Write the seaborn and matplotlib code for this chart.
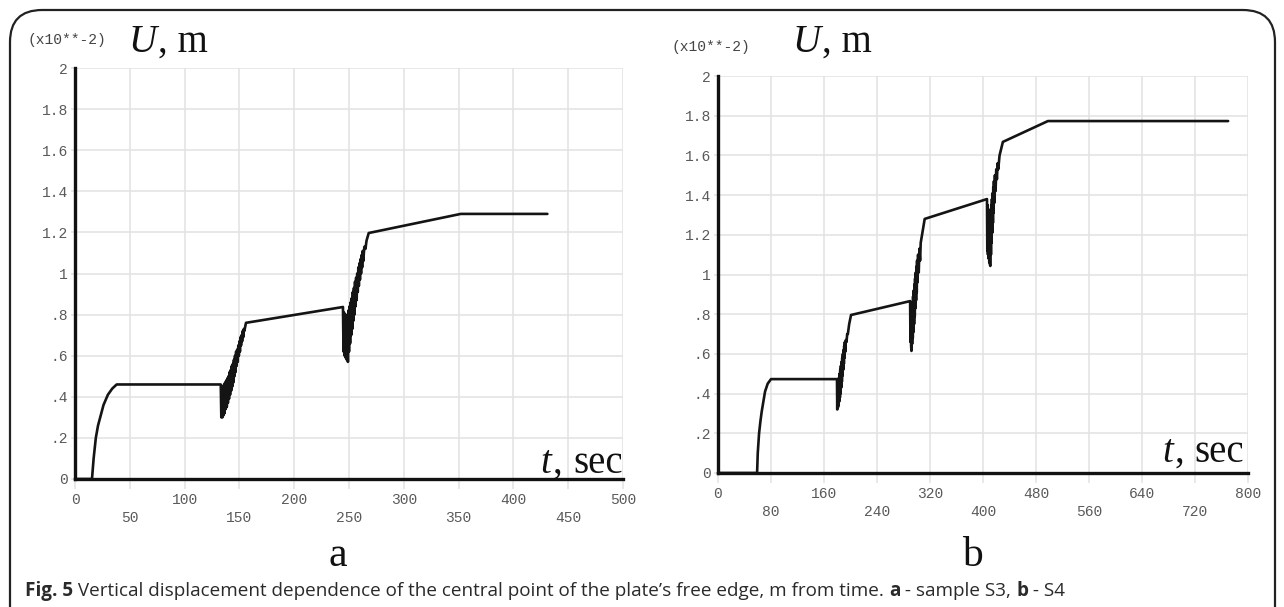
import numpy as np
import pandas as pd
import seaborn as sns
import matplotlib.pyplot as plt
from matplotlib.patches import FancyBboxPatch

# panel a - sample S3 (t in sec, U in x10**-2 m)
t_a = [0, 15.5, 17, 19, 21, 23.5, 26, 30, 34, 38, 133,
       133.5, 134, 134.5, 135, 135.5, 136, 136.5, 137, 137.5, 138, 138.5, 139, 139.5,
       140, 140.5, 141, 141.5, 142, 142.5, 143, 143.5, 144, 144.5, 145, 145.5, 146,
       146.5, 147, 147.5, 148, 148.5, 149, 149.5, 150, 150.5, 151, 151.5, 152, 152.5,
       153, 153.5, 154, 154.5, 156,
       244.5, 245, 245.5, 246, 246.5, 247, 247.5, 248, 248.5, 249, 249.5, 250, 250.5,
       251, 251.5, 252, 252.5, 253, 253.5, 254, 254.5, 255, 255.5, 256, 256.5, 257,
       257.5, 258, 258.5, 259, 259.5, 260, 260.5, 261, 261.5, 262, 262.5, 263, 264,
       265, 266, 268,
       352, 431]
u_a = [0, 0, 0.1, 0.2, 0.26, 0.31, 0.36, 0.41, 0.44, 0.46, 0.46,
       0.30, 0.45, 0.30, 0.45, 0.31, 0.46, 0.32, 0.47, 0.34, 0.48, 0.35, 0.49, 0.37,
       0.50, 0.39, 0.52, 0.41, 0.53, 0.43, 0.55, 0.45, 0.56, 0.47, 0.58, 0.50, 0.60,
       0.52, 0.62, 0.55, 0.63, 0.57, 0.65, 0.60, 0.67, 0.62, 0.69, 0.65, 0.70, 0.67,
       0.72, 0.69, 0.73, 0.72, 0.76,
       0.837, 0.62, 0.81, 0.60, 0.80, 0.59, 0.79, 0.58, 0.80, 0.57, 0.82, 0.62, 0.84,
       0.66, 0.86, 0.70, 0.88, 0.73, 0.91, 0.77, 0.93, 0.80, 0.96, 0.84, 0.98, 0.87,
       1.00, 0.91, 1.03, 0.94, 1.05, 0.97, 1.07, 1.00, 1.09, 1.03, 1.11, 1.06, 1.13,
       1.12, 1.16, 1.197,
       1.29, 1.29]

# panel b - sample S4
t_b = [0, 59, 60, 62, 64, 66, 68.5, 71, 75, 80, 179.6,
       180, 180.5, 181, 181.5, 182, 182.5, 183, 183.5, 184, 184.5, 185, 185.5, 186,
       186.5, 187, 187.5, 188, 188.5, 189, 189.5, 190, 190.5, 191, 191.5, 192, 193,
       194, 195, 196, 198, 200.8,
       290, 290.5, 291, 291.5, 292, 292.5, 293, 293.5, 294, 294.5, 295, 295.5, 296,
       296.5, 297, 297.5, 298, 298.5, 299, 299.5, 300, 300.5, 301, 302, 303, 304,
       305, 306, 308, 312,
       406, 406.5, 407, 407.5, 408, 408.5, 409, 409.5, 410, 410.5, 411, 411.5, 412,
       412.5, 413, 413.5, 414, 414.5, 415, 415.5, 416, 416.5, 417, 418, 419, 420,
       421, 422, 423, 425, 430,
       498, 770]
u_b = [0, 0, 0.1, 0.2, 0.26, 0.31, 0.36, 0.41, 0.45, 0.473, 0.473,
       0.32, 0.46, 0.33, 0.47, 0.34, 0.48, 0.36, 0.50, 0.38, 0.52, 0.40, 0.54, 0.43,
       0.56, 0.46, 0.58, 0.49, 0.60, 0.52, 0.62, 0.55, 0.64, 0.58, 0.66, 0.61, 0.67,
       0.66, 0.70, 0.70, 0.75, 0.796,
       0.866, 0.66, 0.85, 0.64, 0.615, 0.84, 0.65, 0.86, 0.68, 0.89, 0.71, 0.92, 0.75,
       0.95, 0.79, 0.98, 0.83, 1.01, 0.87, 1.04, 0.91, 1.07, 0.96, 1.10, 1.01, 1.13,
       1.07, 1.16, 1.20, 1.28,
       1.38, 1.12, 1.35, 1.10, 1.33, 1.08, 1.32, 1.06, 1.31, 1.05, 1.043, 1.32, 1.10,
       1.35, 1.16, 1.38, 1.21, 1.41, 1.26, 1.44, 1.31, 1.47, 1.36, 1.50, 1.42, 1.53,
       1.48, 1.56, 1.53, 1.60, 1.668,
       1.773, 1.773]

y_ticks = [0, 0.2, 0.4, 0.6, 0.8, 1.0, 1.2, 1.4, 1.6, 1.8, 2.0]
y_labels = ["0", ".2", ".4", ".6", ".8", "1", "1.2", "1.4", "1.6", "1.8", "2"]
x_ticks_a = [0, 50, 100, 150, 200, 250, 300, 350, 400, 450, 500]
x_ticks_b = [0, 80, 160, 240, 320, 400, 480, 560, 640, 720, 800]

W, H = 1284, 607
sns.set_style("white")
fig = plt.figure(figsize=(W / 100, H / 100), dpi=100)

mono = "Liberation Mono"
serif = "Liberation Serif"
tick_col = "#5a5a5a"


def px_axes(l, t, r, b):
    return fig.add_axes([l / W, (H - b) / H, (r - l) / W, (b - t) / H])


def style_panel(ax, xt, xmax):
    ax.set_xlim(0, xmax)
    ax.set_ylim(0, 2)
    ax.set_xticks(xt)
    ax.set_xticklabels([str(v) if i % 2 == 0 else "\n" + str(v) for i, v in enumerate(xt)],
                       fontfamily=mono, fontsize=10.5, color=tick_col, linespacing=1.35)
    ax.set_yticks(y_ticks)
    ax.set_yticklabels(y_labels, fontfamily=mono, fontsize=10.5, color=tick_col)
    ax.grid(True, color="#e2e2e2", lw=1.1)
    ax.tick_params(axis="x", length=7, width=1.1, color="#e2e2e2", pad=3, bottom=True)
    ax.tick_params(axis="y", length=3, width=1.1, color="#e2e2e2", pad=2, left=True)
    for s in ["top", "right"]:
        ax.spines[s].set_visible(False)
    for s in ["left", "bottom"]:
        ax.spines[s].set_color("#111111")
        ax.spines[s].set_linewidth(2.4)
        ax.spines[s].set_zorder(5)
    ax.set_xlabel("")
    ax.set_ylabel("")
    ax.set_facecolor("white")


df_a = pd.DataFrame({"t": t_a, "U": u_a})
df_b = pd.DataFrame({"t": t_b, "U": u_b})

ax_a = px_axes(75, 68, 623, 479)
sns.lineplot(data=df_a, x="t", y="U", ax=ax_a, sort=False, estimator=None,
             color="#141414", lw=1.9, clip_on=False)
style_panel(ax_a, x_ticks_a, 500)

ax_b = px_axes(718, 76, 1248, 473)
sns.lineplot(data=df_b, x="t", y="U", ax=ax_b, sort=False, estimator=None,
             color="#141414", lw=1.9, clip_on=False)
style_panel(ax_b, x_ticks_b, 800)


def fx(x):
    return x / W


def fy(y):
    return 1 - y / H


def serif_text(x, y, s, italic=False, ha="left"):
    fig.text(fx(x), fy(y), s, fontfamily=serif, fontsize=28, color="#111",
             fontstyle="italic" if italic else "normal", va="baseline", ha=ha)


# axis titles
fig.text(fx(28), fy(40), "(x10**-2)", fontfamily=mono, fontsize=10.5, color="#444",
         va="center", ha="left")
serif_text(128, 52, "U", italic=True)
serif_text(158, 52, ", m")

fig.text(fx(672), fy(47), "(x10**-2)", fontfamily=mono, fontsize=10.5, color="#444",
         va="center", ha="left")
serif_text(792, 52, "U", italic=True)
serif_text(822, 52, ", m")

serif_text(540, 473, "t", italic=True)
serif_text(553, 473, ",")
serif_text(623, 473, "sec", ha="right")
serif_text(1162, 462, "t", italic=True)
serif_text(1175, 462, ",")
serif_text(1244, 462, "sec", ha="right")

# panel letters
fig.text(fx(338), fy(566), "a", fontfamily=serif, fontsize=30, color="#111",
         va="baseline", ha="center")
fig.text(fx(972), fy(566), "b", fontfamily=serif, fontsize=30, color="#111",
         va="baseline", ha="center")

# caption built from pieces (bold / regular)
caption = [("Fig. 5", "bold"), (" Vertical displacement dependence of the central point of the plate\u2019s free edge, m from time. ", "normal"),
           ("a", "bold"), (" - sample S3, ", "normal"), ("b", "bold"), (" - S4", "normal")]
renderer = fig.canvas.get_renderer()
x0 = 25
for txt, wt in caption:
    t = fig.text(fx(x0), fy(596), txt, fontfamily="Open Sans", fontsize=13.6,
                 fontweight=wt, color="#2a2a2a", va="baseline", ha="left")
    bb = t.get_window_extent(renderer=renderer)
    x0 += bb.width

# rounded frame around the figure
frame = FancyBboxPatch((fx(10), fy(640)), fx(1265), (640 - 10) / H,
                       boxstyle="round,pad=0,rounding_size=0.025",
                       transform=fig.transFigure, fill=False, ec="#222", lw=1.6,
                       mutation_aspect=W / H)
fig.patches.append(frame)

fig.savefig("out.png", dpi=100)
